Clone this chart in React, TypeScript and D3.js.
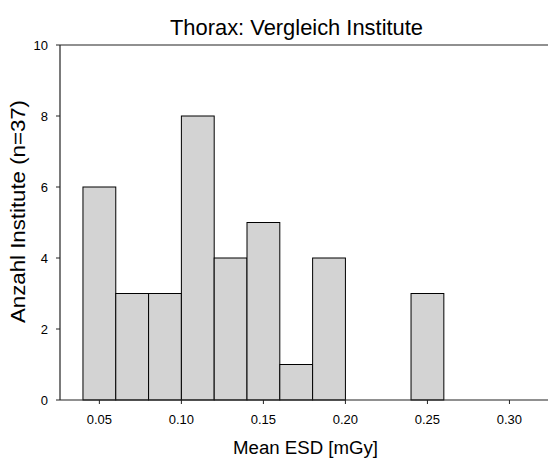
import React from "react";
import * as d3 from "d3";

const binStarts = [0.04, 0.06, 0.08, 0.10, 0.12, 0.14, 0.16, 0.18, 0.24];
const counts = [6, 3, 3, 8, 4, 5, 1, 4, 3];
const binWidth = 0.02;
const xTicks = [0.05, 0.10, 0.15, 0.20, 0.25, 0.30];
const yTicks = [0, 2, 4, 6, 8, 10];

const W = 549, H = 459;
const L = 60, R = 548, T = 45, B = 400;

export default function App() {
  const x = d3.scaleLinear().domain([0.026, 0.3235]).range([L, R]);
  const y = d3.scaleLinear().domain([0, 10]).range([B, T]);
  const font = "'Liberation Sans', Arial, sans-serif";
  return (
    <svg width={W} height={H} style={{ position: "absolute", left: 0, top: 0 }} fontFamily={font}>
      <rect x={0} y={0} width={W} height={H} fill="#fff" />
      {binStarts.map((s, i) => (
        <rect key={i} x={x(s)} y={y(counts[i])} width={x(s + binWidth) - x(s)} height={y(0) - y(counts[i])}
          fill="#d3d3d3" stroke="#000" strokeWidth={1} />
      ))}
      <line x1={L} x2={R} y1={B} y2={B} stroke="#222" strokeWidth={1.2} />
      <line x1={L} x2={L} y1={T} y2={B} stroke="#222" strokeWidth={1.2} />
      <line x1={L} x2={R} y1={T} y2={T} stroke="#222" strokeWidth={1.2} />
      {xTicks.map((t) => (
        <g key={t}>
          <line x1={x(t)} x2={x(t)} y1={B} y2={B + 4} stroke="#222" />
          <text x={x(t)} y={424} textAnchor="middle" fontSize={13}>{t.toFixed(2)}</text>
        </g>
      ))}
      {yTicks.map((t) => (
        <g key={t}>
          <line x1={L - 4} x2={L} y1={y(t)} y2={y(t)} stroke="#222" />
          <text x={48} y={y(t) + 5} textAnchor="end" fontSize={13}>{t}</text>
        </g>
      ))}
      <text x={296.5} y={35} textAnchor="middle" fontSize={22} textLength={253} lengthAdjust="spacingAndGlyphs">Thorax: Vergleich Institute</text>
      <text x={305.5} y={454} textAnchor="middle" fontSize={18} textLength={145} lengthAdjust="spacingAndGlyphs">Mean ESD [mGy]</text>
      <text transform={`translate(25,211.5) rotate(-90)`} textAnchor="middle" fontSize={19.5} textLength={223} lengthAdjust="spacingAndGlyphs">Anzahl Institute (n=37)</text>
    </svg>
  );
}
